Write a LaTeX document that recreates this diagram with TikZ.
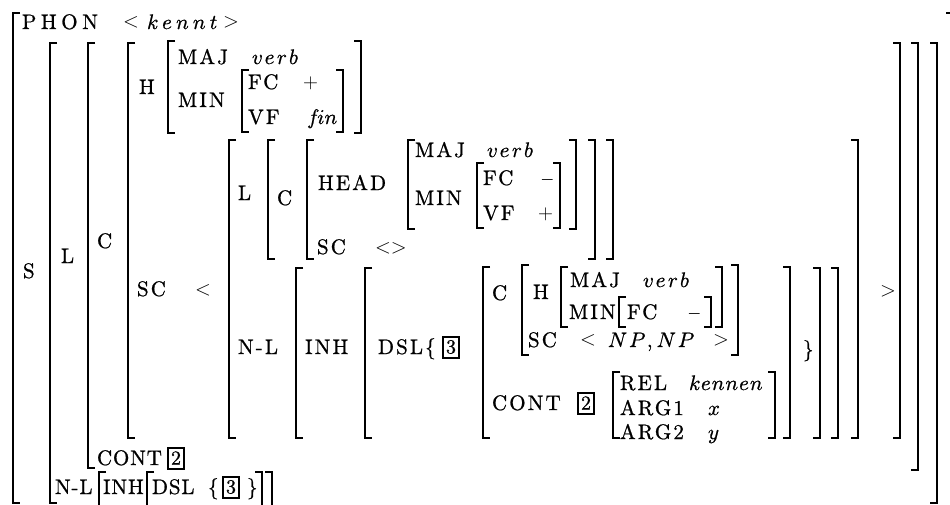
\documentclass[tikz,border=0pt]{standalone}
\usepackage{fontspec}
\setmainfont{lmroman10-regular.otf}[ItalicFont=lmroman10-italic.otf, LetterSpace=10, FakeBold=0.9]
\newfontfamily\mitf{latinmodern-math.otf}[LetterSpace=12, FakeBold=0.9]
\newcommand\Lbk[3]{\draw[br] ({#1+7},#2) -- (#1,#2) -- (#1,#3) -- ({#1+7},#3);}
\newcommand\Rbk[3]{\draw[br] ({#1-7},#2) -- (#1,#2) -- (#1,#3) -- ({#1-7},#3);}
\begin{document}
\begin{tikzpicture}[x=1pt,y=-1pt,
  t/.style={anchor=base west,inner sep=0pt,outer sep=0pt,font=\fontsize{21}{25}\selectfont},
  tn/.style={t,font=\fontsize{21}{25}\selectfont\addfontfeature{LetterSpace=4}},
  tw/.style={t,font=\fontsize{21}{25}\selectfont\addfontfeature{LetterSpace=22}},
  m/.style={t,font=\fontsize{21}{25}\mitf},
  mw/.style={t,font=\fontsize{21}{25}\mitf\addfontfeature{LetterSpace=20}},
  mk/.style={t,font=\fontsize{21}{25}\mitf\addfontfeature{LetterSpace=5}},
  m0/.style={t,font=\fontsize{21}{25}\mitf\addfontfeature{LetterSpace=0}},
  br/.style={line width=2.2pt,line cap=butt,line join=miter},
  tag/.style={draw,line width=2pt,minimum width=16pt,minimum height=21pt,inner sep=0pt,anchor=west,font=\fontsize{20}{20}\selectfont\addfontfeature{LetterSpace=0}}]
\useasboundingbox (0,0) rectangle (950,504);
% outer levels
\Lbk{13}{13}{503} \Rbk{953}{13}{507}
\Lbk{50}{43}{503} \Rbk{937}{43}{503}
\Lbk{88}{43}{468} \Rbk{918}{43}{470}
\Lbk{128}{43}{438} \Rbk{900}{43}{438}
\Lbk{168}{41}{133} \Rbk{361}{41}{133}
\Lbk{242}{70}{132} \Rbk{343}{70}{132}
% list element
\Lbk{229}{140}{438} \Rbk{858}{140}{438}
\Lbk{268}{140}{259} \Rbk{613}{140}{259}
\Lbk{307}{140}{259} \Rbk{595}{140}{259}
\Lbk{408}{140}{229} \Rbk{576}{140}{229}
\Lbk{477}{163}{228} \Rbk{560}{163}{228}
\Lbk{296}{268}{438} \Rbk{838}{268}{438}
\Lbk{365}{268}{438} \Rbk{820}{268}{438}
\Lbk{483}{267}{438} \Rbk{790}{267}{438}
\Lbk{522}{265}{355} \Rbk{738}{265}{355}
\Lbk{561}{267}{327} \Rbk{722}{267}{327}
\Lbk{619}{297}{327} \Rbk{711}{297}{327}
\Lbk{613}{372}{438} \Rbk{775}{372}{438}
\Lbk{99}{472}{507} \Rbk{272}{472}{507}
\Lbk{147}{472}{507} \Rbk{262}{472}{507}
% top
\node[tw] (phon) at (22,29) {PHON};
\node[t] (lt1) at (123,27) {$<$};
\node[mw] (kennt) at (147,29) {𝑘𝑒𝑛𝑛𝑡};
\node[t] (gt1) at (223,27) {$>$};
% labels
\node[t] (s) at (23,278) {S};
\node[t] (l) at (61,263) {L};
\node[t] (c) at (97,248) {C};
\node[t] (h) at (139,94) {H};
\node[t] (maj1) at (178,64) {MAJ};
\node[m] (verb1) at (252,64) {𝑣𝑒𝑟𝑏};
\node[t] (min1) at (178,107) {MIN};
\node[t] (fc1) at (248,89) {FC};
\node[t] (plus1) at (303,88) {$+$};
\node[t] (vf1) at (248,124) {VF};
\node[m0] (fin1) at (307,124) {𝑓𝑖𝑛};
\node[t] (sc1) at (137,296) {SC};
\node[t] (lt2) at (195,295) {$<$};
\node[t] (gt2) at (880,296) {$>$};
% list element, L part
\node[t] (l2) at (238,200) {L};
\node[t] (c2) at (277,205) {C};
\node[t] (head) at (318,190) {HEAD};
\node[t] (maj2) at (415,157) {MAJ};
\node[m] (verb2) at (487,157) {𝑣𝑒𝑟𝑏};
\node[t] (min2) at (415,205) {MIN};
\node[t] (fc2) at (483,185) {FC};
\node[t] (minus2) at (542,185) {\textendash};
\node[t] (vf2) at (483,220) {VF};
\node[t] (plus2) at (538,219) {$+$};
\node[t] (sc2) at (317,254) {SC};
\node[t] (ltgt) at (375,253) {$<>$};
% list element, N-L part
\node[t] (nl2) at (238,354) {N-L};
\node[t] (inh2) at (305,354) {INH};
\node[t] (dsl2) at (378,354) {DSL\{};
\node[tag] (b3a) at (442,347) {3};
\node[t] (c3) at (492,300) {C};
\node[t] (h3) at (533,299) {H};
\node[t] (maj3) at (570,287) {MAJ};
\node[m] (verb3) at (643,287) {𝑣𝑒𝑟𝑏};
\node[t] (min3) at (569,319) {MIN};
\node[t] (fc3) at (627,319) {FC};
\node[t] (minus3) at (689,319) {\textendash};
\node[t] (sc3) at (528,347) {SC};
\node[t] (lt3) at (580,345) {$<$};
\node[mw] (np) at (608,347) {𝑁𝑃,𝑁𝑃};
\node[t] (gt3) at (713,345) {$>$};
\node[t] (cont3) at (492,410) {CONT};
\node[tag] (b2a) at (577,403) {2};
\node[t] (rel) at (620,390) {REL};
\node[mk] (kennen) at (689,390) {𝑘𝑒𝑛𝑛𝑒𝑛};
\node[t] (arg1) at (620,415) {ARG1};
\node[m] (xv) at (708,415) {𝑥};
\node[t] (arg2) at (620,439) {ARG2};
\node[m] (yv) at (708,439) {𝑦};
\node[t] (rbr) at (803,356) {\}};
% bottom
\node[tn] (cont1) at (97,465) {CONT};
\node[tag] (b2b) at (167,458) {2};
\node[tn] (nl1) at (55,494) {N-L};
\node[tn] (inh1) at (103,494) {INH};
\node[tn] (dsl1) at (152,494) {DSL};
\node[t] (lbr1) at (208,494) {\{};
\node[tag] (b3b) at (222,487) {3};
\node[t] (rbr1) at (247,494) {\}};
\end{tikzpicture}
\end{document}
